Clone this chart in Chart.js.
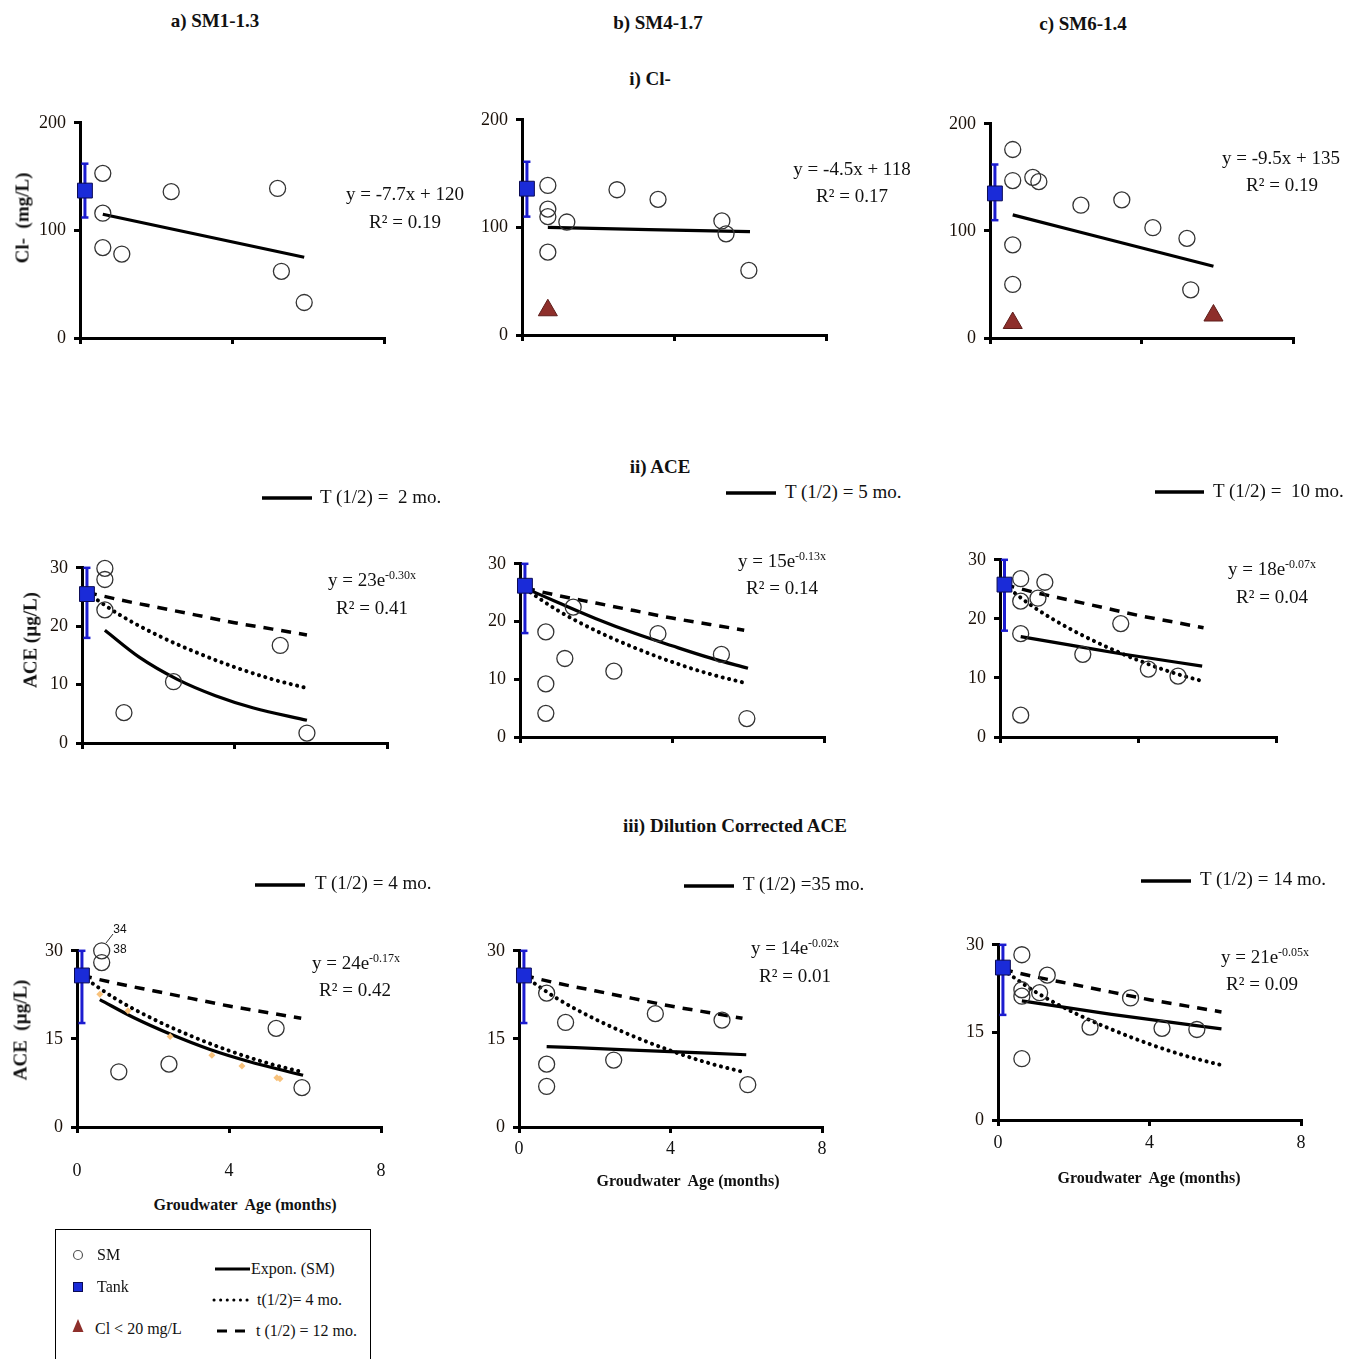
<!DOCTYPE html>
<html>
<head>
<meta charset="utf-8">
<script src="https://cdn.jsdelivr.net/npm/chart.js@4.4.1/dist/chart.umd.min.js"></script>
<style>
  body { margin:0 ; background:#fff ; }
  #page { position:relative ; width:1358px ; height:1359px ; overflow:hidden ; font-family:'Liberation Serif','Times New Roman',serif ; color:#111 ; }
  .t { position:absolute ; transform:translate(-50%,-50%) ; white-space:pre ; font-size:19px ; line-height:1 ; }
  .l { position:absolute ; transform:translateY(-50%) ; white-space:pre ; font-size:19px ; line-height:1 ; }
  .b { font-weight:bold ; }
  .v { transform:translate(-50%,-50%) rotate(-90deg) ; }
  .s { font-size:16px ; }
  .n { font-family:'Liberation Sans',Arial,sans-serif ; font-size:12px ; }
  canvas { position:absolute ; }
  sup { font-size:12px ; vertical-align:7px ; line-height:0 ; }
  #deco { position:absolute ; left:0 ; top:0 ; }
  #legend { position:absolute ; left:55px ; top:1229px ; width:314px ; height:140px ; border:1px solid #000 ; }
</style>
</head>
<body>
<div id="page">
  <div id="legend"></div>
  <svg id="deco" width="1358" height="1359">
    <!-- T(1/2) keys -->
    <line x1="262" y1="498" x2="312" y2="498" stroke="#000" stroke-width="3.5"/>
    <line x1="726" y1="493" x2="776" y2="493" stroke="#000" stroke-width="3.5"/>
    <line x1="1155" y1="492" x2="1204" y2="492" stroke="#000" stroke-width="3.5"/>
    <line x1="255" y1="885" x2="305" y2="885" stroke="#000" stroke-width="3.5"/>
    <line x1="684" y1="886" x2="734" y2="886" stroke="#000" stroke-width="3.5"/>
    <line x1="1141" y1="881" x2="1191" y2="881" stroke="#000" stroke-width="3.5"/>
    <!-- leader to off-scale values -->
    <line x1="106" y1="943" x2="113" y2="934" stroke="#333" stroke-width="1"/>
    <!-- legend symbols -->
    <circle cx="78" cy="1255" r="4.5" fill="none" stroke="#555" stroke-width="1.2"/>
    <rect x="73.5" y="1282.5" width="9" height="9" fill="#1a2bd8" stroke="#0b0b55" stroke-width="1"/>
    <polygon points="78,1319 72.5,1332 83.5,1332" fill="#8e2f2b"/>
    <line x1="215" y1="1269" x2="250" y2="1269" stroke="#000" stroke-width="3"/>
    <line x1="214" y1="1300" x2="248" y2="1300" stroke="#000" stroke-width="3" stroke-dasharray="0.1 6.5" stroke-linecap="round"/>
    <line x1="217" y1="1331" x2="250" y2="1331" stroke="#000" stroke-width="3" stroke-dasharray="10 8"/>
  </svg>
</div>
<script>
'use strict' ;

// groundwater age (months) of the tank sample, all panels
const tankAge = 0.13 ;

// ---- i) Cl- (mg/L)
const clAgeA = [0.6, 0.6, 0.6, 1.1, 2.4, 5.2, 5.3, 5.9] ;
const clA = [153, 116, 84, 78, 136, 139, 62, 33] ;
const clFitAgeA = [0.6, 5.9] ;
const clFitA = [115, 75] ;

const clAgeB = [0.68, 0.68, 0.68, 0.68, 1.18, 2.5, 3.58, 5.26, 5.37, 5.97] ;
const clB = [139, 117, 110, 77, 105, 135, 126, 106, 94, 60] ;
const clFitAgeB = [0.68, 6.0] ;
const clFitB = [100, 96] ;
const lowClAgeB = [0.68] ;
const lowClB = [23] ;

const clAgeC = [0.6, 0.6, 0.6, 0.6, 1.13, 1.29, 2.4, 3.48, 4.3, 5.2, 5.3] ;
const clC = [176, 147, 87, 50, 150, 146, 124, 129, 103, 93, 45] ;
const clFitAgeC = [0.6, 5.9] ;
const clFitC = [115, 67] ;
const lowClAgeC = [0.6, 5.9] ;
const lowClC = [14, 21] ;

const clTank = [137, 136, 135] ;
const clTankLo = [112, 110, 110] ;
const clTankHi = [162, 161, 162] ;

// ---- ACE tank (µg/L) : rows ii a,b,c then iii a,b,c
const aceTank = [25.5, 26.2, 25.8, 25.8, 25.8, 26.1] ;
const aceTankLo = [18, 18, 18, 17.7, 17.7, 18] ;
const aceTankHi = [30, 30, 30, 30, 30, 30] ;

// reference decay from the tank, t(1/2) = 4 and 12 months
const refAge = [0.13, 1, 2, 3, 4, 5, 5.9] ;
const half4 = [25.7, 21.9, 18.4, 15.5, 13.0, 10.9, 9.4] ;
const half12 = [25.8, 24.5, 23.2, 21.9, 20.6, 19.5, 18.5] ;

// ---- ii) ACE
const aceAgeA = [0.6, 0.6, 0.6, 1.1, 2.4, 5.2, 5.9] ;
const aceA = [29.9, 28, 22.8, 5.2, 10.5, 16.7, 1.7] ;
const aceFitAgeA = [0.6, 1.5, 2.5, 3.5, 4.5, 5.9] ;
const aceFitA = [19.3, 14.7, 10.9, 8.1, 6.0, 3.9] ;

const aceAgeB = [0.68, 0.68, 0.68, 1.18, 1.4, 2.47, 3.63, 5.3, 5.97] ;
const aceB = [18.2, 9.2, 4.1, 13.6, 22.5, 11.4, 17.9, 14.3, 3.2] ;
const aceFitAgeB = [0.13, 1, 2, 3, 4, 5, 6] ;
const aceFitB = [25.8, 23.3, 20.5, 18.0, 15.8, 13.7, 11.9] ;

const aceAgeC = [0.6, 0.6, 0.6, 0.6, 1.1, 1.3, 2.4, 3.5, 4.3, 5.16] ;
const aceC = [26.8, 23, 17.5, 3.7, 23.5, 26.2, 14, 19.2, 11.5, 10.3] ;
const aceFitAgeC = [0.6, 2, 3.5, 5.86] ;
const aceFitC = [17.0, 15.6, 14.1, 12.0] ;

// ---- iii) dilution corrected ACE
const dcAgeA = [0.65, 0.65, 1.1, 2.42, 5.24, 5.92] ;
const dcA = [30, 28, 9.4, 10.7, 16.8, 6.7] ;
const dcFitAgeA = [0.6, 1.5, 2.5, 3.5, 4.5, 5.95] ;
const dcFitA = [21.7, 18.6, 15.7, 13.2, 11.2, 8.8] ;
const dilAgeA = [0.6, 1.34, 2.45, 3.55, 4.34, 5.26, 5.34] ;
const dilA = [22.6, 19.8, 15.4, 12.2, 10.4, 8.4, 8.2] ;

const dcAgeB = [0.73, 0.73, 0.73, 1.23, 2.5, 3.6, 5.36, 6.04] ;
const dcB = [22.8, 10.7, 6.9, 17.8, 11.4, 19.3, 18.2, 7.2] ;
const dcFitAgeB = [0.73, 3, 6.0] ;
const dcFitB = [13.7, 13.1, 12.3] ;

const dcAgeC = [0.63, 0.63, 0.63, 0.63, 1.1, 1.3, 2.43, 3.5, 4.33, 5.25] ;
const dcC = [28.3, 22.3, 21.2, 10.5, 21.8, 24.8, 15.9, 20.9, 15.7, 15.5] ;
const dcFitAgeC = [0.63, 3, 5.9] ;
const dcFitC = [20.4, 18.1, 15.6] ;

const page = document.getElementById('page') ;
const YW = 60 ;
const PAD = 16 ;
const XH = 60 ;
const tickFont = { family: 'Liberation Serif', size: 18 } ;

function pts (xs, ys)
{
  return xs.map((x, i) => ({ x: x, y: ys[i] })) ;
}

function tankSet (y)
{
  return { data: [{ x: tankAge, y: y }], pointStyle: 'rect', pointRadius: 10.5,
    pointBackgroundColor: '#1a2bd8', pointBorderColor: '#0b0b55', pointBorderWidth: 1, clip: false } ;
}

function errSet (lo, hi)
{
  return { data: [{ x: tankAge, y: lo }, { x: tankAge, y: hi }], showLine: true,
    borderColor: '#1c1cd0', borderWidth: 3, pointStyle: 'line', pointRadius: 3.5,
    pointBorderColor: '#1c1cd0', pointBorderWidth: 2.5, clip: false } ;
}

function smSet (xs, ys)
{
  return { data: pts(xs, ys), pointStyle: 'circle', pointRadius: 8,
    pointBackgroundColor: 'rgba(0,0,0,0)', pointBorderColor: '#333', pointBorderWidth: 1.3, clip: false } ;
}

function triSet (xs, ys)
{
  return { data: pts(xs, ys), pointStyle: 'triangle', pointRadius: 11,
    pointBackgroundColor: '#8e2f2b', pointBorderColor: '#5e1d1a', pointBorderWidth: 1, clip: false } ;
}

function dilSet (xs, ys)
{
  return { data: pts(xs, ys), pointStyle: 'rectRot', pointRadius: 3.5,
    pointBackgroundColor: '#f8c27c', pointBorderColor: '#f8c27c', pointBorderWidth: 0, clip: false } ;
}

function lineSet (xs, ys, kind)
{
  let s = { data: pts(xs, ys), showLine: true, borderColor: '#000', borderWidth: 3.2,
    pointRadius: 0, cubicInterpolationMode: 'monotone', clip: false } ;
  if (kind === 'dot') { s.borderDash = [0.1, 6.5] ; s.borderCapStyle = 'round' ; s.borderWidth = 4 ; }
  if (kind === 'dash') { s.borderDash = [10, 8] ; s.borderWidth = 3.5 ; }
  return s ;
}

// box = [left, top, right, bottom] of the plot area in page pixels
function panel (box, yMax, yStep, sets, xLabels, xPad)
{
  const L = box[0], T = box[1], R = box[2], B = box[3] ;
  // x tick padding also pads the right side of the chart area, so keep room for it
  const padR = xLabels ? Math.max(PAD, xPad + 12) : PAD ;
  const cv = document.createElement('canvas') ;
  cv.width = YW + (R - L) + padR ;
  cv.height = PAD + (B - T) + XH ;
  cv.style.left = (L - YW) + 'px' ;
  cv.style.top = (T - PAD) + 'px' ;
  page.appendChild(cv) ;

  const grid = { display: true, drawOnChartArea: false, drawTicks: true, tickLength: 6, lineWidth: 3, color: '#000' } ;
  const border = { display: true, width: 3, color: '#000' } ;

  new Chart(cv.getContext('2d'), {
    type: 'scatter',
    data: { datasets: sets },
    options: {
      responsive: false, animation: false, devicePixelRatio: 1, events: [],
      layout: { padding: { top: PAD, right: padR, left: 0, bottom: 0 } },
      plugins: { legend: { display: false }, tooltip: { enabled: false } },
      scales: {
        x: { type: 'linear', min: 0, max: 8,
          ticks: { stepSize: 4, display: xLabels, padding: xPad, font: tickFont, color: '#111', maxRotation: 0 },
          grid: grid, border: border,
          afterFit: s => { s.height = XH ; } },
        y: { type: 'linear', min: 0, max: yMax,
          ticks: { stepSize: yStep, padding: 8, font: tickFont, color: '#1a1008' },
          grid: grid, border: border,
          afterFit: s => { s.width = YW ; } }
      }
    }
  }) ;
}

function aceSets (k, smX, smY, fitX, fitY, extra)
{
  let sets = [tankSet(aceTank[k]), errSet(aceTankLo[k], aceTankHi[k]), smSet(smX, smY)] ;
  if (extra) sets.push(extra) ;
  sets.push(lineSet(fitX, fitY, 'solid'), lineSet(refAge, half4, 'dot'), lineSet(refAge, half12, 'dash')) ;
  return sets ;
}

// i) Cl-
panel([80, 120, 384, 338], 200, 100,
  [tankSet(clTank[0]), errSet(clTankLo[0], clTankHi[0]), smSet(clAgeA, clA), lineSet(clFitAgeA, clFitA, 'solid')], false, 0) ;
panel([522, 117, 826, 335], 200, 100,
  [tankSet(clTank[1]), errSet(clTankLo[1], clTankHi[1]), smSet(clAgeB, clB), triSet(lowClAgeB, lowClB), lineSet(clFitAgeB, clFitB, 'solid')], false, 0) ;
panel([990, 121, 1293, 338], 200, 100,
  [tankSet(clTank[2]), errSet(clTankLo[2], clTankHi[2]), smSet(clAgeC, clC), triSet(lowClAgeC, lowClC), lineSet(clFitAgeC, clFitC, 'solid')], false, 0) ;

// ii) ACE
panel([82, 565, 387, 743], 30, 10, aceSets(0, aceAgeA, aceA, aceFitAgeA, aceFitA), false, 0) ;
panel([520, 561, 824, 737], 30, 10, aceSets(1, aceAgeB, aceB, aceFitAgeB, aceFitB), false, 0) ;
panel([1000, 557, 1276, 737], 30, 10, aceSets(2, aceAgeC, aceC, aceFitAgeC, aceFitC), false, 0) ;

// iii) dilution corrected ACE
panel([77, 948, 381, 1127], 30, 15, aceSets(3, dcAgeA, dcA, dcFitAgeA, dcFitA, dilSet(dilAgeA, dilA)), true, 27) ;
panel([519, 948, 822, 1127], 30, 15, aceSets(4, dcAgeB, dcB, dcFitAgeB, dcFitB), true, 5) ;
panel([998, 942, 1301, 1120], 30, 15, aceSets(5, dcAgeC, dcC, dcFitAgeC, dcFitC), true, 6) ;

// text
function put (x, y, html, cls)
{
  let d = document.createElement('div') ;
  d.className = cls ;
  d.style.left = x + 'px' ;
  d.style.top = y + 'px' ;
  d.innerHTML = html ;
  page.appendChild(d) ;
}

put(215, 20, 'a) SM1-1.3', 't b') ;
put(658, 22, 'b) SM4-1.7', 't b') ;
put(1083, 23, 'c) SM6-1.4', 't b') ;
put(650, 78, 'i) Cl-', 't b') ;
put(660, 466, 'ii) ACE', 't b') ;
put(735, 825, 'iii) Dilution Corrected ACE', 't b') ;

put(22, 218, 'Cl-  (mg/L)', 't b v') ;
put(30, 640, 'ACE (µg/L)', 't b v') ;
put(20, 1030, 'ACE  (µg/L)', 't b v') ;

put(405, 193, 'y = -7.7x + 120', 't') ;
put(405, 221, 'R² = 0.19', 't') ;
put(852, 168, 'y = -4.5x + 118', 't') ;
put(852, 195, 'R² = 0.17', 't') ;
put(1281, 157, 'y = -9.5x + 135', 't') ;
put(1282, 184, 'R² = 0.19', 't') ;

put(372, 579, 'y = 23e<sup>-0.30x</sup>', 't') ;
put(372, 607, 'R² = 0.41', 't') ;
put(782, 560, 'y = 15e<sup>-0.13x</sup>', 't') ;
put(782, 587, 'R² = 0.14', 't') ;
put(1272, 568, 'y = 18e<sup>-0.07x</sup>', 't') ;
put(1272, 596, 'R² = 0.04', 't') ;

put(356, 962, 'y = 24e<sup>-0.17x</sup>', 't') ;
put(355, 989, 'R² = 0.42', 't') ;
put(795, 947, 'y = 14e<sup>-0.02x</sup>', 't') ;
put(795, 975, 'R² = 0.01', 't') ;
put(1265, 956, 'y = 21e<sup>-0.05x</sup>', 't') ;
put(1262, 983, 'R² = 0.09', 't') ;

put(320, 496, 'T (1/2) =  2 mo.', 'l') ;
put(785, 491, 'T (1/2) = 5 mo.', 'l') ;
put(1213, 490, 'T (1/2) =  10 mo.', 'l') ;
put(315, 882, 'T (1/2) = 4 mo.', 'l') ;
put(743, 883, 'T (1/2) =35 mo.', 'l') ;
put(1200, 878, 'T (1/2) = 14 mo.', 'l') ;

put(120, 929, '34', 't n') ;
put(120, 949, '38', 't n') ;

put(245, 1205, 'Groudwater  Age (months)', 't b s') ;
put(688, 1181, 'Groudwater  Age (months)', 't b s') ;
put(1149, 1178, 'Groudwater  Age (months)', 't b s') ;

// legend
put(97, 1255, 'SM', 'l s') ;
put(97, 1287, 'Tank', 'l s') ;
put(95, 1329, 'Cl &lt; 20 mg/L', 'l s') ;
put(251, 1269, 'Expon. (SM)', 'l s') ;
put(257, 1300, 't(1/2)= 4 mo.', 'l s') ;
put(256, 1331, 't (1/2) = 12 mo.', 'l s') ;
</script>
</body>
</html>
